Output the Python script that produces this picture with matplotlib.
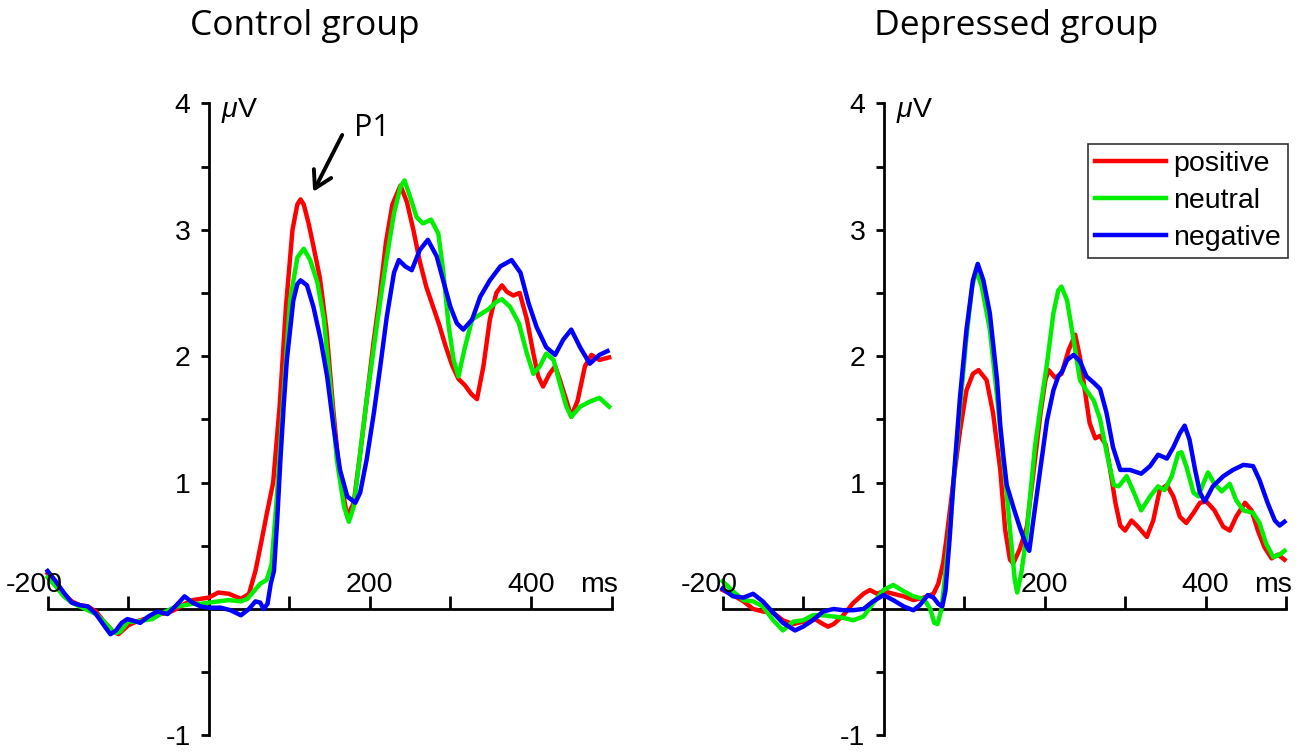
import matplotlib
matplotlib.use('Agg')
import matplotlib.pyplot as plt

plt.rcParams['font.family'] = ['Liberation Sans', 'DejaVu Sans']
plt.rcParams['mathtext.fontset'] = 'custom'
plt.rcParams['mathtext.rm'] = 'Liberation Sans'
plt.rcParams['mathtext.it'] = 'Liberation Sans:italic'

# Условия и цвета
conditions = ['positive', 'neutral', 'negative']
colors = ['#ff0000', '#00ee00', '#0000ff']
panel_titles = ['Control group', 'Depressed group']

# Оси
x_ticks = [-200, -100, 0, 100, 200, 300, 400, 500]
y_ticks = [-1, -0.5, 0.5, 1, 1.5, 2, 2.5, 3, 3.5, 4]
y_tick_labels = ['-1', '', '', '1', '', '2', '', '3', '', '4']
x_label_pos = [-200, 200, 400, 484]
x_labels = ['-200', '200', '400', 'ms']

# Контрольная группа (мс, мкВ)
ctrl_pos_t = [-200, -190, -180, -170, -160, -150, -140, -130, -120, -112, -100, -90, -80, -70, -60, -50, -40,
              -30, -20, -10, 0, 12, 25, 40, 50, 58, 65, 72, 80, 88, 96, 104, 110, 114, 118, 124, 130, 138,
              146, 154, 162, 172, 180, 188, 196, 204, 212, 220, 228, 238, 246, 254, 262, 270, 278, 286, 294,
              302, 310, 318, 326, 333, 341, 349, 357, 364, 370, 378, 386, 395, 403, 409, 415, 423, 430, 436,
              444, 450, 458, 467, 475, 485, 497]
ctrl_pos_v = [0.28, 0.2, 0.12, 0.06, 0.03, 0.02, -0.02, -0.1, -0.17, -0.2, -0.13, -0.1, -0.08, -0.07, -0.04,
              -0.03, 0.0, 0.04, 0.07, 0.08, 0.09, 0.13, 0.12, 0.08, 0.12, 0.3, 0.52, 0.75, 1.0, 1.6, 2.4, 3.0,
              3.2, 3.24, 3.2, 3.05, 2.87, 2.62, 2.22, 1.62, 1.08, 0.73, 0.84, 1.23, 1.65, 2.08, 2.46, 2.9, 3.2,
              3.35, 3.22, 3.0, 2.75, 2.55, 2.4, 2.25, 2.08, 1.93, 1.82, 1.77, 1.7, 1.66, 1.92, 2.29, 2.5, 2.56,
              2.51, 2.48, 2.5, 2.29, 2.02, 1.84, 1.76, 1.86, 1.92, 1.81, 1.65, 1.52, 1.65, 1.92, 2.01, 1.97,
              1.99]

ctrl_neu_t = [-200, -190, -180, -170, -160, -150, -140, -130, -120, -115, -110, -100, -90, -80, -70, -60, -50,
              -40, -30, -20, -10, 0, 12, 25, 40, 48, 56, 64, 72, 78, 85, 93, 101, 110, 118, 126, 135, 143,
              151, 159, 168, 174, 180, 188, 196, 205, 213, 221, 230, 238, 243, 250, 258, 266, 276, 285, 291,
              298, 304, 310, 318, 327, 337, 347, 357, 364, 374, 385, 395, 403, 411, 419, 428, 436, 444, 450,
              461, 473, 485, 497]
ctrl_neu_v = [0.25, 0.18, 0.1, 0.05, 0.02, -0.01, -0.04, -0.1, -0.17, -0.19, -0.18, -0.1, -0.1, -0.09, -0.08,
              -0.04, -0.01, 0.02, 0.03, 0.04, 0.04, 0.05, 0.06, 0.07, 0.06, 0.08, 0.14, 0.2, 0.23, 0.35, 0.92,
              1.71, 2.44, 2.78, 2.85, 2.76, 2.58, 2.29, 1.76, 1.18, 0.81, 0.69, 0.81, 1.23, 1.65, 2.07, 2.44,
              2.78, 3.13, 3.34, 3.39, 3.26, 3.1, 3.05, 3.08, 2.97, 2.68, 2.23, 1.97, 1.84, 2.07, 2.29, 2.33,
              2.37, 2.43, 2.45, 2.39, 2.26, 2.02, 1.86, 1.92, 2.02, 1.97, 1.78, 1.6, 1.52, 1.6, 1.64, 1.67, 1.6]

ctrl_neg_t = [-200, -190, -180, -170, -160, -150, -140, -130, -122, -115, -108, -101, -95, -85, -75, -64, -51,
              -40, -30, -20, -10, 0, 15, 27, 40, 50, 58, 64, 68, 73, 77, 81, 85, 89, 93, 97, 105, 110, 114,
              122, 130, 139, 147, 155, 163, 172, 182, 188, 196, 205, 213, 221, 230, 236, 244, 252, 262, 272,
              283, 291, 300, 308, 316, 327, 337, 349, 362, 376, 387, 397, 407, 419, 430, 440, 450, 461, 473,
              485, 495]
ctrl_neg_v = [0.3, 0.22, 0.13, 0.05, 0.03, 0.02, -0.04, -0.13, -0.2, -0.17, -0.11, -0.08, -0.09, -0.11, -0.06,
              -0.02, -0.04, 0.03, 0.1, 0.05, 0.02, 0.01, 0.01, -0.01, -0.05, 0.0, 0.06, 0.05, 0.0, 0.04, 0.2,
              0.3, 0.7, 1.18, 1.6, 1.97, 2.44, 2.57, 2.6, 2.56, 2.39, 2.13, 1.84, 1.44, 1.1, 0.89, 0.84, 0.92,
              1.18, 1.55, 1.92, 2.31, 2.66, 2.76, 2.71, 2.68, 2.84, 2.92, 2.79, 2.6, 2.39, 2.26, 2.21, 2.29,
              2.47, 2.6, 2.71, 2.76, 2.66, 2.42, 2.23, 2.07, 2.01, 2.13, 2.21, 2.07, 1.94, 2.01, 2.04]

# Группа с депрессией
dep_pos_t = [-200, -187, -174, -162, -150, -137, -125, -112, -100, -88, -75, -69, -62, -50, -38, -25, -17, -8,
             0, 12, 25, 37, 50, 62, 68, 74, 78, 87, 95, 103, 111, 118, 128, 136, 145, 151, 157, 161, 169, 178,
             186, 195, 201, 205, 213, 221, 230, 238, 244, 250, 256, 263, 269, 276, 281, 288, 294, 300, 308,
             316, 327, 335, 343, 352, 360, 368, 376, 385, 393, 401, 411, 422, 430, 438, 449, 457, 465, 473,
             482, 490, 498]
dep_pos_v = [0.15, 0.11, 0.06, 0.0, -0.02, -0.03, -0.09, -0.12, -0.1, -0.07, -0.12, -0.14, -0.12, -0.05, 0.045,
             0.12, 0.15, 0.12, 0.14, 0.12, 0.1, 0.07, 0.09, 0.12, 0.2, 0.36, 0.55, 1.02, 1.41, 1.73, 1.86, 1.89,
             1.81, 1.55, 1.1, 0.63, 0.39, 0.36, 0.47, 0.65, 1.07, 1.55, 1.81, 1.89, 1.83, 1.86, 2.05, 2.17,
             1.99, 1.73, 1.47, 1.35, 1.37, 1.3, 1.12, 0.84, 0.66, 0.62, 0.7, 0.65, 0.57, 0.7, 0.94, 0.98, 0.89,
             0.73, 0.68, 0.76, 0.84, 0.85, 0.78, 0.65, 0.62, 0.73, 0.84, 0.78, 0.62, 0.49, 0.4, 0.43, 0.39]

dep_neu_t = [-200, -187, -174, -162, -150, -137, -125, -112, -100, -88, -75, -62, -50, -38, -25, -13, 0, 12,
             25, 37, 50, 58, 63, 67, 72, 77, 82, 87, 95, 103, 110, 115, 122, 132, 141, 149, 153, 157, 163,
             166, 171, 178, 182, 188, 195, 203, 211, 217, 221, 228, 236, 244, 252, 261, 269, 277, 286, 292,
             302, 311, 320, 331, 341, 349, 358, 366, 370, 376, 385, 391, 397, 403, 411, 420, 430, 438, 447,
             459, 467, 475, 484, 492, 498]
dep_neu_v = [0.22, 0.14, 0.07, 0.06, 0.02, -0.09, -0.17, -0.1, -0.09, -0.05, -0.05, -0.06, -0.07, -0.09, -0.06,
             0.045, 0.15, 0.19, 0.14, 0.1, 0.08, 0.0, -0.11, -0.12, 0.0, 0.3, 0.6, 1.0, 1.6, 2.15, 2.55, 2.68,
             2.55, 2.21, 1.68, 1.15, 0.92, 0.63, 0.23, 0.13, 0.28, 0.6, 0.89, 1.28, 1.6, 1.94, 2.34, 2.52,
             2.55, 2.44, 2.13, 1.81, 1.73, 1.65, 1.5, 1.24, 0.98, 0.97, 1.05, 0.92, 0.78, 0.89, 0.97, 0.94,
             1.05, 1.23, 1.24, 1.13, 0.92, 0.89, 0.99, 1.08, 0.99, 0.93, 0.99, 0.86, 0.78, 0.76, 0.68, 0.52,
             0.41, 0.43, 0.46]

dep_neg_t = [-200, -187, -174, -162, -150, -137, -125, -110, -100, -88, -75, -62, -50, -38, -25, -13, 0, 12,
             25, 37, 45, 55, 62, 68, 73, 77, 82, 87, 95, 103, 111, 117, 124, 132, 141, 145, 149, 153, 161,
             169, 178, 181, 186, 195, 203, 211, 217, 222, 228, 236, 244, 252, 261, 269, 277, 285, 294, 306,
             320, 331, 341, 352, 360, 368, 374, 380, 387, 393, 399, 409, 422, 434, 447, 459, 467, 477, 486,
             492, 498]
dep_neg_v = [0.16, 0.1, 0.09, 0.12, 0.06, -0.03, -0.11, -0.17, -0.14, -0.09, -0.02, 0.0, -0.01, -0.01, 0.0,
             0.06, 0.11, 0.07, 0.02, -0.01, 0.03, 0.11, 0.09, 0.04, 0.02, 0.15, 0.55, 1.02, 1.68, 2.21, 2.6,
             2.73, 2.6, 2.34, 1.81, 1.45, 1.2, 0.98, 0.81, 0.65, 0.49, 0.46, 0.7, 1.12, 1.49, 1.73, 1.84,
             1.88, 1.97, 2.01, 1.96, 1.84, 1.79, 1.74, 1.55, 1.28, 1.1, 1.1, 1.07, 1.13, 1.22, 1.19, 1.28,
             1.39, 1.45, 1.34, 1.1, 0.92, 0.85, 0.97, 1.05, 1.1, 1.14, 1.13, 1.02, 0.84, 0.7, 0.66, 0.69]

panels = [
    [(ctrl_pos_t, ctrl_pos_v), (ctrl_neu_t, ctrl_neu_v), (ctrl_neg_t, ctrl_neg_v)],
    [(dep_pos_t, dep_pos_v), (dep_neu_t, dep_neu_v), (dep_neg_t, dep_neg_v)],
]

TICK_FS = 20.5


def style_axes(ax):
    ax.set_xlim(-200, 500)
    ax.set_ylim(-1, 4)
    for s in ['top', 'right']:
        ax.spines[s].set_visible(False)
    for s in ['left', 'bottom']:
        ax.spines[s].set_position(('data', 0))
        ax.spines[s].set_linewidth(2.0)
    ax.set_xticks(x_ticks)
    ax.set_xticklabels([])
    ax.tick_params(axis='x', direction='in', length=9.5, width=2.0)
    ax.set_yticks(y_ticks)
    ax.set_yticklabels(y_tick_labels, fontsize=TICK_FS)
    ax.tick_params(axis='y', direction='out', length=6, width=2.0, pad=7)
    for pos, lab in zip(x_label_pos, x_labels):
        dx = -13 if lab == '-200' else 0
        ax.annotate(lab, xy=(pos, 0), xytext=(dx, 17), textcoords='offset pixels',
                    ha='center', va='baseline', fontsize=TICK_FS)
    ax.annotate(r'$\mu$V', xy=(0, 4), xytext=(12, -14), textcoords='offset pixels',
                ha='left', va='baseline', fontsize=TICK_FS)


fig = plt.figure(figsize=(13, 7.56), dpi=100)
axes = [fig.add_axes([0.0366, 0.0273, 0.4338, 0.836]),
        fig.add_axes([0.5558, 0.0273, 0.4335, 0.836])]

for ax, series in zip(axes, panels):
    for (t, v), name, c in zip(series, conditions, colors):
        ax.plot(t, v, color=c, lw=3.2, label=name, zorder=3, clip_on=False)
    style_axes(ax)

fig.text(0.2346, 1 - 35 / 756, panel_titles[0], ha='center', va='baseline',
         family='Open Sans', fontsize=25.5)
fig.text(0.7815, 1 - 35 / 756, panel_titles[1], ha='center', va='baseline',
         family='Open Sans', fontsize=25.5)

# Стрелка P1
axes[0].annotate('', xy=(129.7, 3.30), xytext=(165.7, 3.75),
                 arrowprops=dict(arrowstyle='->, head_length=0.6, head_width=0.35',
                                 lw=2.8, color='k', shrinkA=0, shrinkB=0, mutation_scale=20))
axes[0].text(180, 3.74, 'P1', ha='left', va='baseline', family='Open Sans', fontsize=22)

leg = axes[1].legend(loc='upper right', bbox_to_anchor=(1.0036, 0.9358), borderaxespad=0,
                     fontsize=20.5, handlelength=2.5, handletextpad=0.25, labelspacing=0.38,
                     borderpad=0.25, fancybox=False, framealpha=1)
leg.get_frame().set_edgecolor('#333333')
leg.get_frame().set_linewidth(1.2)

plt.savefig('out.png', dpi=100)
